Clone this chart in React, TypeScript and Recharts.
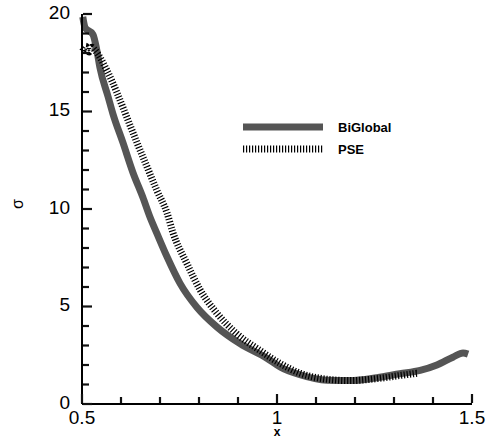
import { LineChart, Line, XAxis, YAxis, Legend } from "recharts";

// BiGlobal curve
const bigX = [0.502, 0.508, 0.528, 0.538, 0.546, 0.567, 0.579, 0.605, 0.631, 0.656, 0.674, 0.692, 0.718, 0.751, 0.795, 0.846, 0.905, 0.974, 1.008, 1.059, 1.128, 1.187, 1.256, 1.315, 1.367, 1.41, 1.451, 1.477, 1.49];
const bigY = [19.85, 19.3, 18.95, 18.15, 17.25, 15.75, 14.9, 13.4, 11.85, 10.6, 9.6, 8.75, 7.55, 6.2, 4.95, 3.95, 3.1, 2.35, 1.9, 1.5, 1.22, 1.2, 1.35, 1.55, 1.72, 2.0, 2.4, 2.62, 2.56];

// PSE curve
const pseX = [0.502, 0.51, 0.518, 0.525, 0.533, 0.564, 0.59, 0.615, 0.641, 0.667, 0.692, 0.718, 0.733, 0.769, 0.803, 0.846, 0.897, 0.956, 1.008, 1.059, 1.128, 1.187, 1.256, 1.315, 1.36];
const pseY = [18.1, 18.35, 18.05, 18.3, 18.15, 17.1, 15.95, 14.7, 13.4, 12.15, 10.95, 9.8, 8.8, 7.2, 5.85, 4.65, 3.6, 2.75, 2.08, 1.58, 1.27, 1.2, 1.3, 1.46, 1.58];

const xTicks = [0.5, 0.6, 0.7, 0.8, 0.9, 1, 1.1, 1.2, 1.3, 1.4, 1.5];
const xLabels = ["0.5", "1", "1.5"];
const yTicks = [0, 1, 2, 3, 4, 5, 6, 7, 8, 9, 10, 11, 12, 13, 14, 15, 16, 17, 18, 19, 20];
const yLabels = ["0", "5", "10", "15", "20"];

const bigData = bigX.map((x, i) => ({ x, y: bigY[i] }));
const pseData = pseX.map((x, i) => ({ x, y: pseY[i] }));

const PLOT_LEFT = 82;
const PLOT_BOTTOM = 404;
const font = "'Liberation Sans', Arial, sans-serif";

// ticks point inward, so they are drawn by hand next to the label
function XTick(props: any) {
  const { x, payload } = props;
  const label = xLabels.find((l) => Math.abs(parseFloat(l) - payload.value) < 1e-6);
  const len = label ? 9 : 6;
  return (
    <g>
      <path d={`M${x},${PLOT_BOTTOM - 1}V${PLOT_BOTTOM - 1 - len}`} stroke="#111" strokeWidth={2.2} fill="none" />
      {label && (
        <text x={x} y={PLOT_BOTTOM + 13} textAnchor="middle" dominantBaseline="central" fontSize={19} fontFamily={font} fill="#000">
          {label}
        </text>
      )}
    </g>
  );
}

function YTick(props: any) {
  const { y, payload } = props;
  const label = yLabels.find((l) => Number(l) === payload.value);
  const len = label ? 9 : 6;
  return (
    <g>
      <path d={`M${PLOT_LEFT + 1},${y}H${PLOT_LEFT + 1 + len}`} stroke="#111" strokeWidth={2.2} fill="none" />
      {label && (
        <text x={PLOT_LEFT - 12} y={y - 2} textAnchor="end" dominantBaseline="central" fontSize={19} fontFamily={font} fill="#000">
          {label}
        </text>
      )}
    </g>
  );
}

function LegendBox() {
  return (
    <svg width={160} height={44} style={{ display: "block" }}>
      <line x1={0} x2={80} y1={8} y2={8} stroke="#555" strokeWidth={7} />
      <line x1={0} x2={80} y1={30} y2={30} stroke="#000" strokeWidth={7} strokeDasharray="1.2 1.8" />
      <text x={95} y={8} dominantBaseline="central" fontSize={13} fontWeight="bold" fontFamily={font}>BiGlobal</text>
      <text x={95} y={30} dominantBaseline="central" fontSize={13} fontWeight="bold" fontFamily={font}>PSE</text>
    </svg>
  );
}

export default function App() {
  return (
    <div style={{ position: "relative", width: 486, height: 438 }}>
      <style>{"body{margin:0}"}</style>
      <LineChart width={486} height={438} margin={{ top: 14, right: 14, bottom: 4, left: 22 }}>
        <XAxis
          type="number"
          dataKey="x"
          domain={[0.5, 1.5]}
          ticks={xTicks}
          tick={<XTick />}
          tickLine={false}
          axisLine={{ stroke: "#000", strokeWidth: 2 }}
          height={30}
          interval={0}
          label={{ value: "x", position: "insideBottom", offset: -2, fontSize: 12, fontWeight: "bold", fontFamily: font, fill: "#000" }}
        />
        <YAxis
          type="number"
          dataKey="y"
          domain={[0, 20]}
          ticks={yTicks}
          tick={<YTick />}
          tickLine={false}
          axisLine={{ stroke: "#000", strokeWidth: 2 }}
          width={60}
          interval={0}
          label={{ value: "σ", angle: -90, position: "insideLeft", offset: -5, fontSize: 16, fontFamily: font, fill: "#000" }}
        />
        <Legend
          layout="vertical"
          align="center"
          verticalAlign="middle"
          content={<LegendBox />}
          wrapperStyle={{ left: 243, top: 119, width: 160, height: 44 }}
        />
        <Line
          data={bigData}
          dataKey="y"
          type="monotone"
          stroke="#555"
          strokeWidth={7}
          dot={false}
          isAnimationActive={false}
        />
        <Line
          data={pseData}
          dataKey="y"
          type="monotone"
          stroke="#000"
          strokeWidth={7}
          strokeDasharray="1.2 1.8"
          dot={false}
          isAnimationActive={false}
        />
      </LineChart>
    </div>
  );
}
